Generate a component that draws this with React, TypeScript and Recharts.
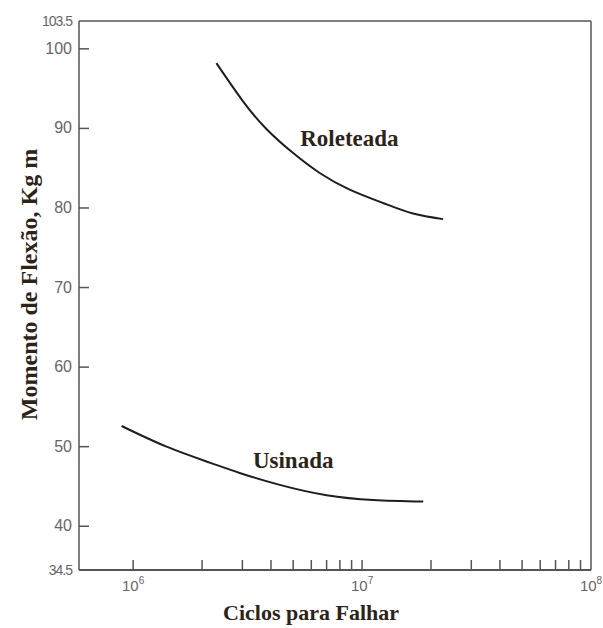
import React from "react"
import { LineChart, Line, XAxis, YAxis, ReferenceLine, ReferenceDot, Label } from "recharts"

// ciclos (eixo log) e momento de flexão
const roleteadaCiclos = [2.31e6, 3.02e6, 3.83e6, 5.0e6, 6.53e6, 8.83e6, 1.24e7, 1.67e7, 2.26e7]
const roleteadaMomento = [98.2, 93.4, 89.9, 86.9, 84.4, 82.3, 80.6, 79.3, 78.6]

const usinadaCiclos = [8.9e5, 1.4e6, 2.16e6, 2.92e6, 4.37e6, 7.0e6, 1.12e7, 1.85e7]
const usinadaMomento = [52.6, 50.0, 48.0, 46.7, 45.2, 43.9, 43.3, 43.1]

const yTicks = [34.5, 40, 50, 60, 70, 80, 90, 100, 103.5]
const xTicks = [
  1e6, 2e6, 3e6, 4e6, 5e6, 6e6, 7e6, 8e6, 9e6,
  1e7, 2e7, 3e7, 4e7, 5e7, 6e7, 7e7, 8e7, 9e7, 1e8,
]
const xDomain = [5.8e5, 1e8]
const yDomain = [34.5, 103.5]

const curveNames = ["Roleteada", "Usinada"]
const curveLabelCiclos = [8.8e6, 5.0e6]
const curveLabelMomento = [88.8, 48.4]

const INK = "#1e1e1e"
const AXIS = "#555"
const TICK_TEXT = "#666"
const TITLE = "#2d2418"
const SERIF = "'Liberation Serif', 'Times New Roman', serif"

const roleteada = roleteadaCiclos.map((c, i) => ({ ciclos: c, momento: roleteadaMomento[i] }))
const usinada = usinadaCiclos.map((c, i) => ({ ciclos: c, momento: usinadaMomento[i] }))

function YTick(props: any) {
  const { x, y, payload } = props
  const v = payload.value
  const axisX = x + 7
  const edge = v === 34.5 || v === 103.5
  return (
    <g>
      <text x={x} y={y} dy={5} textAnchor="end" fill={TICK_TEXT} fontSize={edge ? 14 : 16}
        fontFamily="'Liberation Sans', Arial, sans-serif" letterSpacing={edge ? -1 : 0}>
        {v}
      </text>
      {!edge && <line x1={axisX} x2={axisX + 10} y1={y} y2={y} stroke={AXIS} strokeWidth={1.5} />}
    </g>
  )
}

function XTick(props: any) {
  const { x, y, payload } = props
  const v = payload.value
  const exp = Math.round(Math.log10(v))
  const pow = Math.abs(Math.log10(v) - exp) < 1e-9
  const axisY = y - 6
  return (
    <g>
      {v < 1e8 && <line x1={x} x2={x} y1={axisY} y2={axisY - 10} stroke={AXIS} strokeWidth={1.5} />}
      {pow && (
        <text x={x} y={axisY + 21} textAnchor="middle" fill={TICK_TEXT} fontSize={15}
          fontFamily="'Liberation Sans', Arial, sans-serif">
          10<tspan dy={-7} fontSize={10}>{exp}</tspan>
        </text>
      )}
    </g>
  )
}

export default function App() {
  return (
    <div style={{ position: "absolute", left: 0, top: 0, background: "#fff" }}>
      <LineChart width={603} height={628} margin={{ top: 21, right: 12, bottom: 0, left: 0 }}>
        <XAxis
          dataKey="ciclos"
          type="number"
          scale="log"
          domain={xDomain}
          allowDataOverflow
          ticks={xTicks}
          interval={0}
          tick={<XTick />}
          tickSize={0}
          tickMargin={6}
          height={58}
          axisLine={{ stroke: AXIS, strokeWidth: 2 }}
        >
          <Label
            content={({ viewBox }: any) => (
              <text x={viewBox.x + 232} y={viewBox.y + 50} textAnchor="middle" fill={TITLE}
                fontSize={22} fontWeight="bold" fontFamily={SERIF}>
                Ciclos para Falhar
              </text>
            )}
          />
        </XAxis>
        <YAxis
          type="number"
          domain={yDomain}
          ticks={yTicks}
          interval={0}
          tick={<YTick />}
          tickSize={0}
          tickMargin={7}
          width={79}
          axisLine={{ stroke: AXIS, strokeWidth: 1.5 }}
        >
          <Label
            content={({ viewBox }: any) => {
              const cx = 37
              const cy = viewBox.y + viewBox.height / 2 - 11
              return (
                <text x={cx} y={cy} textAnchor="middle" fill={TITLE} fontSize={24} fontWeight="bold"
                  fontFamily={SERIF} transform={`rotate(-90, ${cx}, ${cy})`}>
                  Momento de Flexão, Kg m
                </text>
              )
            }}
          />
        </YAxis>
        <ReferenceLine y={103.5} stroke={AXIS} strokeWidth={1.5} />
        <ReferenceLine x={1e8} stroke={AXIS} strokeWidth={1.5} />
        <Line data={roleteada} dataKey="momento" type="natural" stroke={INK} strokeWidth={2}
          dot={false} isAnimationActive={false} />
        <Line data={usinada} dataKey="momento" type="natural" stroke={INK} strokeWidth={2}
          dot={false} isAnimationActive={false} />
        {curveNames.map((name, i) => (
          <ReferenceDot key={name} x={curveLabelCiclos[i]} y={curveLabelMomento[i]} r={0}
            fill="none" stroke="none"
            label={{ value: name, position: "center", fill: TITLE, fontSize: 23, fontWeight: "bold", fontFamily: SERIF }} />
        ))}
      </LineChart>
    </div>
  )
}
